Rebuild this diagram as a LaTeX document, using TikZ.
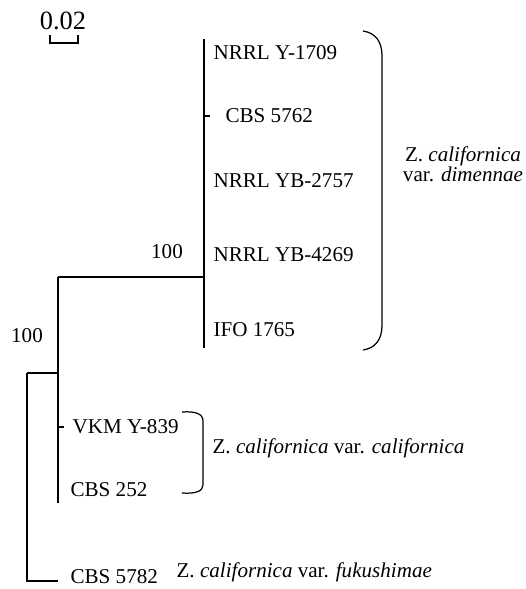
\documentclass[tikz,border=0pt]{standalone}
\usepackage{fontspec}
\setmainfont{Liberation Serif}
\usepackage{tikz}

\begin{document}
\begin{tikzpicture}[x=0.02cm, y=-0.02cm, line width=0.7pt,
    leaf/.style={anchor=west, inner sep=0pt, font=\fontsize{12}{13}\selectfont},
    boot/.style={inner sep=0pt, font=\fontsize{12}{13}\selectfont},
    clade/.style={inner sep=0pt, font=\fontsize{12}{11.5}\selectfont}]
    \useasboundingbox (0,0) rectangle (526,589);

    % Scale bar
    \node[inner sep=0pt, font=\fontsize{15}{16}\selectfont] (scale) at (63,21) {0.02};
    \coordinate (sL) at (50,43);
    \coordinate (sR) at (78,43);
    \draw (50,35) -- (sL) -- (sR) -- (78,35);

    % Internal nodes
    \coordinate (root) at (27,373);
    \coordinate (nA) at (58,373);
    \coordinate (nAtop) at (58,277);
    \coordinate (nAbot) at (58,503);
    \coordinate (nB) at (204,277);
    \coordinate (nBtop) at (204,39);
    \coordinate (nBbot) at (204,348);
    \coordinate (t5782) at (58,581);
    \coordinate (t5762) at (204,116);
    \coordinate (t839) at (58,427);

    % Leaves (dimennae)
    \node[leaf] (y1709) at (213,53) {NRRL Y-1709};
    \node[leaf] (cbs5762) at (225,116) {CBS 5762};
    \node[leaf] (yb2757) at (213,181) {NRRL YB-2757};
    \node[leaf] (yb4269) at (213,255) {NRRL YB-4269};
    \node[leaf] (ifo1765) at (213,330) {IFO 1765};

    % Leaves (californica, fukushimae)
    \node[leaf] (vkm839) at (72,427) {VKM Y-839};
    \node[leaf] (cbs252) at (70,490) {CBS 252};
    \node[leaf] (cbs5782) at (70,577) {CBS 5782};

    % Bootstrap values
    \node[boot] (bB) at (167,252) {100};
    \node[boot] (bA) at (27,336) {100};

    % Branches
    \draw (root) -- (nA);
    \draw (root) |- (t5782);
    \draw (nAtop) -- (nAbot);
    \draw (nAtop) -- (nB);
    \draw (nBtop) -- (nBbot);
    \draw (t5762) -- (210,116);
    \draw (t839) -- (64,427);

    % Bracket: var. dimennae
    \coordinate (bigtop) at (363,31);
    \coordinate (bigbot) at (363,350);
    \draw (bigtop) .. controls (376,33) and (382,42) .. (382,56)
        -- (382,325) .. controls (382,339) and (376,348) .. (bigbot);
    \node[clade, align=center] (dimennae) at (463,164)
        {Z. \textit{californica}\\var. \textit{dimennae}};

    % Bracket: var. californica
    \coordinate (smtop) at (182,412);
    \coordinate (smbot) at (182,493);
    \draw (smtop) .. controls (196,411) and (203,414) .. (203,421)
        -- (203,485) .. controls (203,491) and (196,494) .. (smbot);
    \node[clade, anchor=west] (californica) at (212,448)
        {Z. \textit{californica} var. \textit{californica}};

    % var. fukushimae
    \node[clade, anchor=west] (fukushimae) at (176,572)
        {Z. \textit{californica} var. \textit{fukushimae}};
\end{tikzpicture}
\end{document}
